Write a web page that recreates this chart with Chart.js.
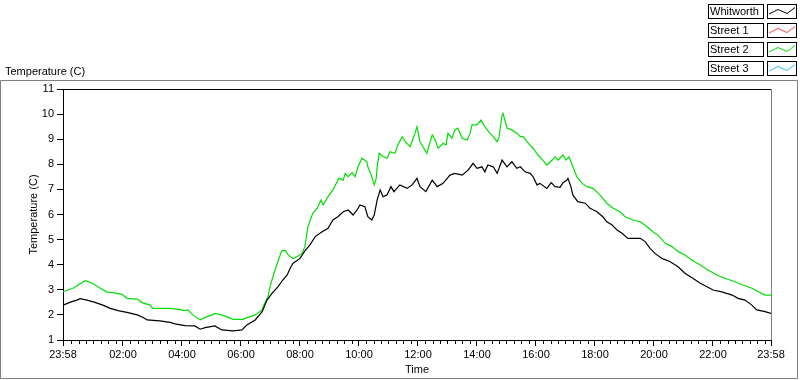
<!DOCTYPE html>
<html>
<head>
<meta charset="utf-8">
<script src="https://cdn.jsdelivr.net/npm/chart.js@4"></script>
<style>
  html, body { margin: 0; padding: 0; background: #ffffff; }
  #wrap { width: 800px; height: 380px; position: relative; }
</style>
</head>
<body>
<div id="wrap"><canvas id="chart" width="800" height="380"></canvas></div>
<script>

/* ------------------------------------------------ */
// data: minutes after midnight (23:58 = -2) and deg C

const seriesNames = ['Whitworth', 'Street 1', 'Street 2', 'Street 3'];
const seriesColors = ['#000000', '#ff4a4a', '#00e000', '#33bbff'];

const xTickValues = [-2, 120, 240, 360, 480, 600, 720, 840, 960, 1080, 1200, 1320, 1438];
const yTickValues = [1, 2, 3, 4, 5, 6, 7, 8, 9, 10, 11];

const whitworthTimes = [
  -2, 16, 26, 33, 47, 63, 79, 94, 110, 128, 149, 161, 169, 195, 216, 226, 246, 266, 277, 287,
  307, 321, 344, 362, 372, 389, 403, 413, 423, 435, 445, 454, 460, 466, 480, 490, 500, 511, 525, 537,
  547, 557, 568, 578, 588, 596, 602, 612, 618, 626, 631, 637, 643, 649, 657, 665, 671, 683, 698, 708,
  718, 724, 736, 749, 759, 771, 785, 795, 810, 822, 832, 840, 850, 856, 862, 873, 881, 891, 901, 911,
  921, 928, 938, 948, 954, 962, 968, 982, 991, 999, 1009, 1015, 1023, 1025, 1031, 1035, 1045, 1060, 1070, 1084,
  1096, 1104, 1115, 1125, 1135, 1147, 1172, 1182, 1192, 1202, 1216, 1233, 1249, 1263, 1279, 1294, 1308, 1320, 1338, 1359,
  1371, 1385, 1399, 1409, 1426, 1438
];
const whitworthTemps = [
  2.39, 2.53, 2.59, 2.65, 2.59, 2.50, 2.39, 2.26, 2.17, 2.10, 2.00, 1.90, 1.80, 1.76, 1.70, 1.64, 1.57, 1.56, 1.43, 1.49,
  1.56, 1.40, 1.36, 1.40, 1.60, 1.80, 2.13, 2.59, 2.86, 3.12, 3.39, 3.59, 3.86, 4.06, 4.25, 4.55, 4.78, 5.12, 5.31, 5.45,
  5.78, 5.91, 6.11, 6.18, 5.98, 6.18, 6.38, 6.31, 5.91, 5.78, 5.98, 6.58, 6.98, 6.71, 6.78, 7.11, 6.91, 7.18, 7.04, 7.18,
  7.44, 7.11, 6.91, 7.37, 7.11, 7.24, 7.57, 7.64, 7.57, 7.77, 8.04, 7.84, 7.90, 7.70, 7.97, 7.90, 7.64, 8.17, 7.90, 8.10,
  7.84, 7.90, 7.70, 7.64, 7.51, 7.18, 7.24, 7.04, 7.27, 7.11, 7.08, 7.27, 7.37, 7.44, 7.11, 6.78, 6.51, 6.45, 6.25, 6.11,
  5.91, 5.71, 5.58, 5.38, 5.25, 5.05, 5.05, 4.92, 4.65, 4.45, 4.25, 4.12, 3.92, 3.66, 3.46, 3.26, 3.12, 2.99, 2.92, 2.79,
  2.66, 2.59, 2.39, 2.20, 2.13, 2.06
];

const street2Times = [
  -2, 18, 29, 43, 57, 73, 87, 108, 118, 128, 149, 159, 175, 181, 216, 232, 246, 252, 262, 277,
  287, 301, 307, 321, 334, 344, 364, 374, 389, 403, 405, 415, 419, 427, 435, 443, 450, 456, 466, 476,
  484, 490, 496, 506, 515, 523, 527, 537, 547, 559, 568, 572, 578, 586, 592, 598, 606, 616, 618, 626,
  631, 635, 637, 641, 649, 657, 663, 673, 679, 688, 694, 704, 714, 718, 724, 738, 749, 755, 761, 771,
  777, 781, 789, 795, 801, 810, 820, 826, 830, 840, 848, 856, 866, 873, 881, 885, 891, 893, 901, 911,
  921, 928, 934, 944, 954, 964, 974, 982, 993, 999, 1005, 1015, 1021, 1027, 1035, 1043, 1054, 1064, 1076, 1090,
  1104, 1117, 1131, 1141, 1157, 1172, 1186, 1198, 1208, 1223, 1237, 1249, 1263, 1277, 1294, 1310, 1328, 1344, 1365, 1381,
  1399, 1412, 1426, 1438
];
const street2Temps = [
  2.92, 3.06, 3.19, 3.36, 3.27, 3.07, 2.92, 2.86, 2.82, 2.66, 2.63, 2.49, 2.39, 2.26, 2.26, 2.22, 2.17, 2.20, 2.00, 1.80,
  1.90, 2.00, 2.06, 2.00, 1.90, 1.82, 1.82, 1.90, 2.00, 2.20, 2.33, 2.73, 3.12, 3.66, 4.12, 4.56, 4.56, 4.39, 4.25, 4.35,
  4.45, 4.72, 5.51, 6.05, 6.25, 6.58, 6.38, 6.71, 6.98, 7.44, 7.37, 7.64, 7.51, 7.67, 7.51, 7.90, 8.24, 8.10, 7.90, 7.51,
  7.18, 7.44, 7.90, 8.44, 8.30, 8.24, 8.50, 8.44, 8.77, 9.10, 8.90, 8.70, 9.24, 9.50, 8.90, 8.44, 9.17, 8.97, 8.64, 8.84,
  8.77, 9.24, 9.04, 9.37, 9.44, 9.04, 8.97, 9.24, 9.57, 9.57, 9.76, 9.50, 9.24, 9.10, 8.90, 9.10, 9.96, 10.03, 9.44, 9.37,
  9.24, 9.10, 9.10, 8.84, 8.64, 8.37, 8.17, 7.97, 8.17, 8.30, 8.17, 8.37, 8.17, 8.30, 7.90, 7.51, 7.24, 7.11, 7.04, 6.78,
  6.45, 6.25, 6.11, 5.91, 5.78, 5.71, 5.51, 5.31, 5.18, 4.85, 4.72, 4.52, 4.39, 4.19, 3.99, 3.79, 3.59, 3.46, 3.32, 3.19,
  3.06, 2.92, 2.79, 2.79
];

// Street 1 and Street 3 have no samples in the picture, only legend entries
const street1Times = [];
const street1Temps = [];
const street3Times = [];
const street3Temps = [];

/* ------------------------------------------------ */

const FONT = '"Liberation Sans", Arial, sans-serif';

function toPoints(times, temps) {
  return times.map((t, i) => ({ x: t, y: temps[i] }));
}

function timeLabel(value) {
  if (value < 0 || value >= 1438) return '23:58';
  let h = Math.floor(value / 60);
  let m = value % 60;
  return String(h).padStart(2, '0') + ':' + String(m).padStart(2, '0');
}

function makeDataset(index, times, temps) {
  return {
    label: seriesNames[index],
    data: toPoints(times, temps),
    borderColor: seriesColors[index],
    backgroundColor: seriesColors[index],
    borderWidth: 1.2,
    pointRadius: 0,
    tension: 0,
    fill: false,
  };
}

/* ------------------------------------------------ */
// frame, title, legend and minor time ticks in LabVIEW style

const framePlugin = {
  id: 'frame',
  afterDraw(chart) {
    let ctx = chart.ctx;
    let area = chart.chartArea;
    let xScale = chart.scales.x;
    ctx.save();

    // outer panel
    ctx.strokeStyle = '#808080';
    ctx.lineWidth = 1;
    ctx.beginPath();
    ctx.moveTo(0.5, 378.5);
    ctx.lineTo(0.5, 80.5);
    ctx.lineTo(797.5, 80.5);
    ctx.lineTo(797.5, 378.5);
    ctx.lineTo(0.5, 378.5);
    ctx.stroke();

    // plot box top and right edges
    ctx.strokeStyle = '#000000';
    ctx.beginPath();
    ctx.moveTo(area.left, area.top + 0.5);
    ctx.lineTo(area.right, area.top + 0.5);
    ctx.stroke();
    ctx.strokeStyle = '#808080';
    ctx.beginPath();
    ctx.moveTo(area.right + 0.5, area.top);
    ctx.lineTo(area.right + 0.5, area.bottom);
    ctx.stroke();

    // minor ticks every 15 minutes
    ctx.strokeStyle = '#000000';
    ctx.beginPath();
    for (let m = 15; m < 1438; m += 15) {
      if (m % 120 == 0) continue;
      let x = Math.round(xScale.getPixelForValue(m)) + 0.5;
      ctx.moveTo(x, area.bottom);
      ctx.lineTo(x, area.bottom + 4);
    }
    ctx.stroke();

    // chart label
    ctx.fillStyle = '#000000';
    ctx.font = '11px ' + FONT;
    ctx.textBaseline = 'middle';
    ctx.textAlign = 'left';
    ctx.fillText('Temperature (C)', 5, 72);

    // legend: name box + plot sample box per series
    chart.data.datasets.forEach((ds, i) => {
      let top = 4 + i * 19;
      ctx.fillStyle = '#ffffff';
      ctx.fillRect(708, top, 55, 14);
      ctx.fillRect(767, top, 30, 14);
      ctx.strokeStyle = '#000000';
      ctx.strokeRect(708.5, top + 0.5, 55, 14);
      ctx.strokeRect(767.5, top + 0.5, 29, 14);
      ctx.fillStyle = '#000000';
      ctx.fillText(ds.label, 710, top + 8);
      ctx.strokeStyle = ds.borderColor;
      ctx.beginPath();
      ctx.moveTo(769, top + 10);
      ctx.lineTo(778, top + 5.5);
      ctx.lineTo(787, top + 9.5);
      ctx.lineTo(795, top + 3.5);
      ctx.stroke();
    });

    ctx.restore();
  }
};

/* ------------------------------------------------ */

function generateChart() {
  let ctx = document.getElementById('chart').getContext('2d');
  Chart.defaults.font.family = FONT;
  Chart.defaults.font.size = 11;
  Chart.defaults.color = '#000000';

  let chart = new Chart(ctx, {
    type: 'line',
    data: {
      datasets: [
        makeDataset(0, whitworthTimes, whitworthTemps),
        makeDataset(1, street1Times, street1Temps),
        makeDataset(2, street2Times, street2Temps),
        makeDataset(3, street3Times, street3Temps),
      ],
    },
    options: {
      responsive: false,
      animation: false,
      layout: { padding: { left: 27, top: 89, right: 29, bottom: 3 } },
      plugins: {
        legend: { display: false },
        tooltip: { enabled: false },
      },
      scales: {
        x: {
          type: 'linear',
          min: -2,
          max: 1438,
          afterBuildTicks: (scale) => {
            scale.ticks = xTickValues.map((v) => ({ value: v }));
          },
          afterFit: (scale) => { scale.height = 37; },
          ticks: {
            autoSkip: false,
            maxRotation: 0,
            padding: 2,
            callback: (value) => timeLabel(value),
          },
          grid: {
            drawOnChartArea: false,
            tickLength: 6,
            tickColor: '#000000',
          },
          border: { color: '#000000', width: 1 },
          title: { display: true, text: 'Time', padding: 0, font: { size: 11 } },
        },
        y: {
          min: 1,
          max: 11,
          afterBuildTicks: (scale) => {
            scale.ticks = yTickValues.map((v) => ({ value: v }));
          },
          afterFit: (scale) => { scale.width = 36; },
          ticks: { padding: 3 },
          grid: {
            drawOnChartArea: false,
            tickLength: 6,
            tickColor: '#000000',
          },
          border: { color: '#000000', width: 1 },
          title: { display: true, text: 'Temperature (C)', padding: 0, font: { size: 11 } },
        },
      },
    },
    plugins: [framePlugin],
  });
  return chart;
}

generateChart();

</script>
</body>
</html>
